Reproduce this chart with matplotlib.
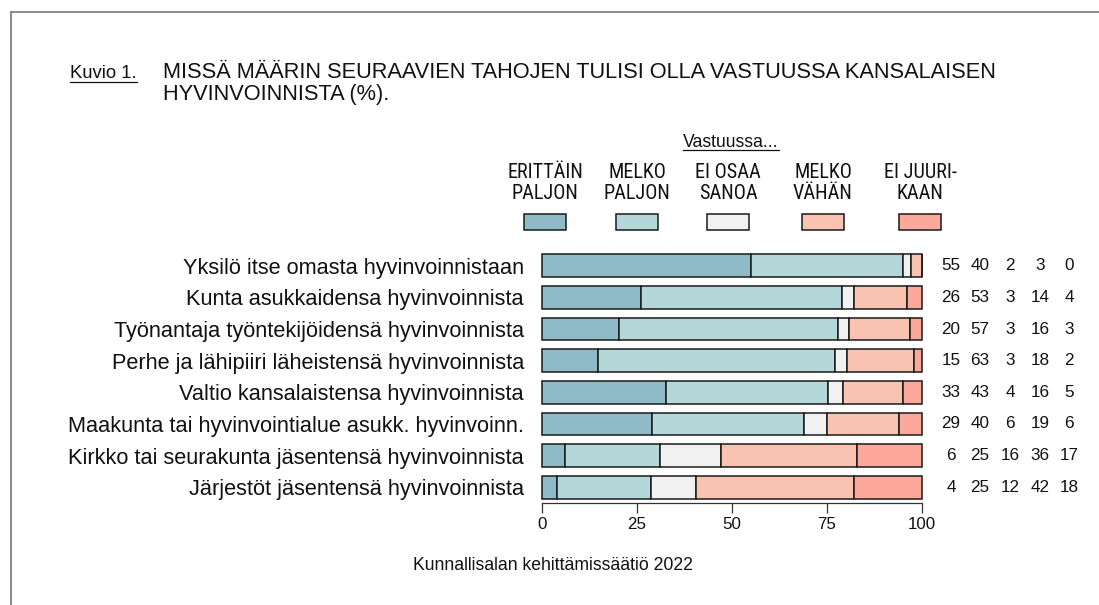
import matplotlib
matplotlib.use("Agg")
import os
import matplotlib.pyplot as plt
from matplotlib.patches import Rectangle
from matplotlib.lines import Line2D
from matplotlib import font_manager
from matplotlib.font_manager import FontProperties
import numpy as np

categories = [
    "Yksilö itse omasta hyvinvoinnistaan",
    "Kunta asukkaidensa hyvinvoinnista",
    "Työnantaja työntekijöidensä hyvinvoinnista",
    "Perhe ja lähipiiri läheistensä hyvinvoinnista",
    "Valtio kansalaistensa hyvinvoinnista",
    "Maakunta tai hyvinvointialue asukk. hyvinvoinn.",
    "Kirkko tai seurakunta jäsentensä hyvinvoinnista",
    "Järjestöt jäsentensä hyvinvoinnista",
]
erittain_paljon = [55, 26, 20, 15, 33, 29, 6, 4]
melko_paljon = [40, 53, 57, 63, 43, 40, 25, 25]
ei_osaa_sanoa = [2, 3, 3, 3, 4, 6, 16, 12]
melko_vahan = [3, 14, 16, 18, 16, 19, 36, 42]
ei_juurikaan = [0, 4, 3, 2, 5, 6, 17, 18]
series_labels = ["ERITTÄIN\nPALJON", "MELKO\nPALJON", "EI OSAA\nSANOA", "MELKO\nVÄHÄN", "EI JUURI-\nKAAN"]
series_colors = ["#8fbbc8", "#b4d7da", "#f1f1f1", "#f8c4b1", "#fca89a"]
xticks = [0, 25, 50, 75, 100]
title_prefix = "Kuvio 1."
title_lines = ["MISSÄ MÄÄRIN SEURAAVIEN TAHOJEN TULISI OLLA VASTUUSSA KANSALAISEN",
               "HYVINVOINNISTA (%)."]
legend_title = "Vastuussa..."
source_text = "Kunnallisalan kehittämissäätiö 2022"


def find_narrow():
    prefs = ["Liberation Sans Narrow", "Arial Narrow", "Roboto Condensed", "Open Sans Condensed",
             "DejaVu Sans Condensed", "Noto Sans Condensed"]
    cands = []
    for f in font_manager.fontManager.ttflist:
        base = os.path.basename(f.fname).lower()
        if any(k in base for k in ("bold", "italic", "oblique", "light", "black", "thin", "medium", "semi")):
            continue
        if "narrow" in base or "condensed" in base or "narrow" in f.name.lower() or "condensed" in f.name.lower():
            cands.append(f)
    for p in prefs:
        key = p.lower().replace(" ", "")
        for f in cands:
            b = os.path.basename(f.fname).lower().replace("-", "").replace("_", "")
            if key in b or f.name.lower() == p.lower():
                return FontProperties(fname=f.fname)
    if cands:
        return FontProperties(fname=cands[0].fname)
    return FontProperties(family="Liberation Sans")


narrow_fp = find_narrow()
regular_fp = FontProperties(family="Liberation Sans")

W, H = 1099, 605
fig = plt.figure(figsize=(W / 100, H / 100), dpi=100)
renderer = fig.canvas.get_renderer()


def fx(px):
    return px / W


def fy(py):
    return 1 - py / H


def fit_size(text_obj, target_px):
    text_obj.set_fontsize(10)
    w = text_obj.get_window_extent(renderer=renderer).width
    size = 10 * target_px / w
    text_obj.set_fontsize(size)
    return size


# frame lines (top and left)
fig.add_artist(Line2D([fx(11), 1], [fy(12), fy(12)], color="#8c8c8c", lw=1.5))
fig.add_artist(Line2D([fx(11), fx(11)], [fy(12), 0], color="#8c8c8c", lw=1.5))

# title
t = fig.text(fx(70), fy(78.5), title_prefix, fontproperties=regular_fp, fontsize=13.3,
             va="baseline", ha="left", color="#111111")
for k, (line, base) in enumerate(zip(title_lines, [78.5, 100])):
    fig.text(fx(163), fy(base), line, fontproperties=regular_fp, fontsize=15.7,
             va="baseline", ha="left", color="#111111")
bb = t.get_window_extent(renderer=renderer)
fig.add_artist(Line2D([bb.x0 / W, bb.x1 / W], [fy(82), fy(82)], color="#111111", lw=0.9))

# axes
ax_left, ax_right = 542, 922
ax_top, ax_bot = 250, 503
ax = fig.add_axes([fx(ax_left), fy(ax_bot), (ax_right - ax_left) / W, (ax_bot - ax_top) / H])

data = np.array([erittain_paljon, melko_paljon, ei_osaa_sanoa, melko_vahan, ei_juurikaan], dtype=float)
data = data / data.sum(axis=0) * 100
y = np.arange(len(categories))
left = np.zeros(len(categories))
for vals, col in zip(data, series_colors):
    ax.barh(y, vals, left=left, height=0.72, color=col, edgecolor="#1a1a1a", linewidth=1.1, clip_on=False)
    left += vals

ax.set_xlim(0, 100)
ax.set_ylim(len(categories) - 0.5, -0.5)
ax.set_yticks(y)
ax.set_yticklabels(categories, fontproperties=regular_fp, fontsize=15.7, color="#111111")
ax.tick_params(axis="y", length=0, pad=13)
ax.set_xticks(xticks)
ax.set_xticklabels([str(v) for v in xticks], fontproperties=regular_fp, fontsize=12.2, color="#111111")
ax.tick_params(axis="x", length=7, width=0.9, color="#333333", pad=3)
for s in ["top", "right", "left"]:
    ax.spines[s].set_visible(False)
ax.spines["bottom"].set_color("#333333")
ax.spines["bottom"].set_linewidth(0.9)

# value columns
raw = [erittain_paljon, melko_paljon, ei_osaa_sanoa, melko_vahan, ei_juurikaan]
col_x = [951, 980, 1010, 1040, 1069]
for j, series in enumerate(raw):
    for i, v in enumerate(series):
        xd = (col_x[j] - ax_left) / (ax_right - ax_left) * 100
        ax.text(xd, i, str(v), ha="center", va="center", fontproperties=regular_fp, fontsize=12.3,
                color="#111111", clip_on=False)

# legend
lt = fig.text(fx(731), fy(147), legend_title, fontproperties=regular_fp, ha="center", va="baseline", color="#111111")
fit_size(lt, 95)
bb = lt.get_window_extent(renderer=renderer)
fig.add_artist(Line2D([bb.x0 / W, bb.x1 / W], [fy(150), fy(150)], color="#111111", lw=0.9))
leg_x = [545, 637, 728, 823, 920]
probe = fig.text(0, 0, "ERITTÄIN", fontproperties=narrow_fp)
lsize = fit_size(probe, 76)
probe.remove()
for lx, lab, col in zip(leg_x, series_labels, series_colors):
    fig.text(fx(lx), fy(183), lab, fontproperties=narrow_fp, fontsize=lsize, ha="center", va="center",
             color="#111111", linespacing=1.1)
    fig.add_artist(Rectangle((fx(lx - 21), fy(230)), 42 / W, 16 / H, transform=fig.transFigure,
                             facecolor=col, edgecolor="#1a1a1a", linewidth=1.1))

st = fig.text(fx(553), fy(566), source_text, fontproperties=regular_fp, ha="center", va="center", color="#111111")
fit_size(st, 282)

fig.savefig("out.png", dpi=100)
